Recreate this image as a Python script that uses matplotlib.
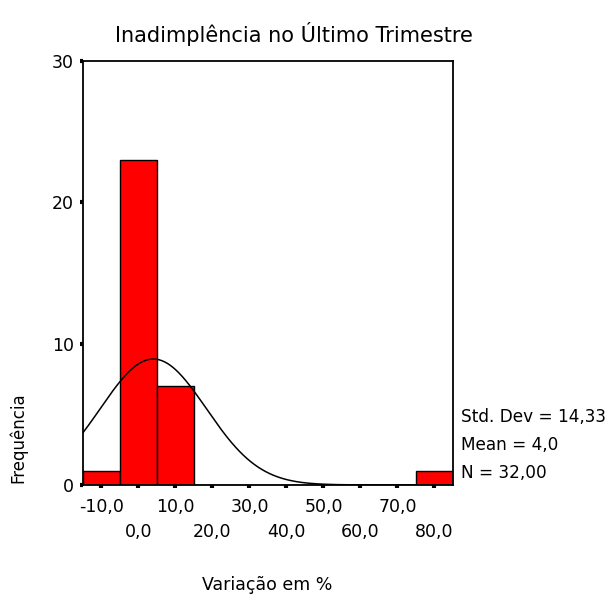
import numpy as np
import matplotlib
matplotlib.use("Agg")
import matplotlib.pyplot as plt

plt.rcParams['font.family'] = ['DejaVu Sans']

centros = [-10, 0, 10, 20, 30, 40, 50, 60, 70, 80]
contagens = [1, 23, 7, 0, 0, 0, 0, 0, 0, 1]
rotulos_x = ['-10,0', '0,0', '10,0', '20,0', '30,0', '40,0', '50,0', '60,0', '70,0', '80,0']
media = 4.0
desvio = 14.33
n = 32
largura = 10

fig = plt.figure(figsize=(6.08, 5.95), dpi=100)
ax = fig.add_axes([0.1365, 0.185, 0.6085, 0.7125])

ax.bar(centros, contagens, width=largura, color='#ff0000', edgecolor='black', linewidth=1.0, zorder=2)

# curva normal ajustada
X = np.linspace(-15, 85, 400)
Y = n * largura / (desvio * np.sqrt(2 * np.pi)) * np.exp(-0.5 * ((X - media) / desvio) ** 2)
ax.plot(X, Y, color='black', linewidth=1.1, zorder=3)

ax.set_xlim(-15, 85)
ax.set_ylim(0, 30)

ax.set_xticks(centros)
labs = [l if i % 2 == 0 else '\n' + l for i, l in enumerate(rotulos_x)]
ax.set_xticklabels(labs, fontsize=12.5, linespacing=1.5)
ax.set_yticks([0, 10, 20, 30])
ax.set_yticklabels(['0', '10', '20', '30'], fontsize=12.5)
ax.tick_params(axis='both', direction='out', length=2.5, width=3)
ax.tick_params(axis='x', pad=7)
ax.tick_params(axis='y', pad=4)
for s in ax.spines.values():
    s.set_linewidth(1.3)

fig.text(0.4836, 0.943, 'Inadimplência no Último Trimestre', fontsize=15, ha='center', va='center')
fig.text(0.44, 0.017, 'Variação em %', fontsize=12.5, ha='center', va='center')
fig.text(0.03, 0.264, 'Frequência', fontsize=12, rotation=90, ha='center', va='center')

stats = ['Std. Dev = ' + f'{desvio:.2f}'.replace('.', ','),
         'Mean = ' + f'{media:.1f}'.replace('.', ','),
         'N = ' + f'{n:.2f}'.replace('.', ',')]
ys = [0.299, 0.252, 0.205]
for t, y in zip(stats, ys):
    fig.text(0.758, y, t, fontsize=12.2, ha='left', va='center')

fig.savefig('out.png', dpi=100)
